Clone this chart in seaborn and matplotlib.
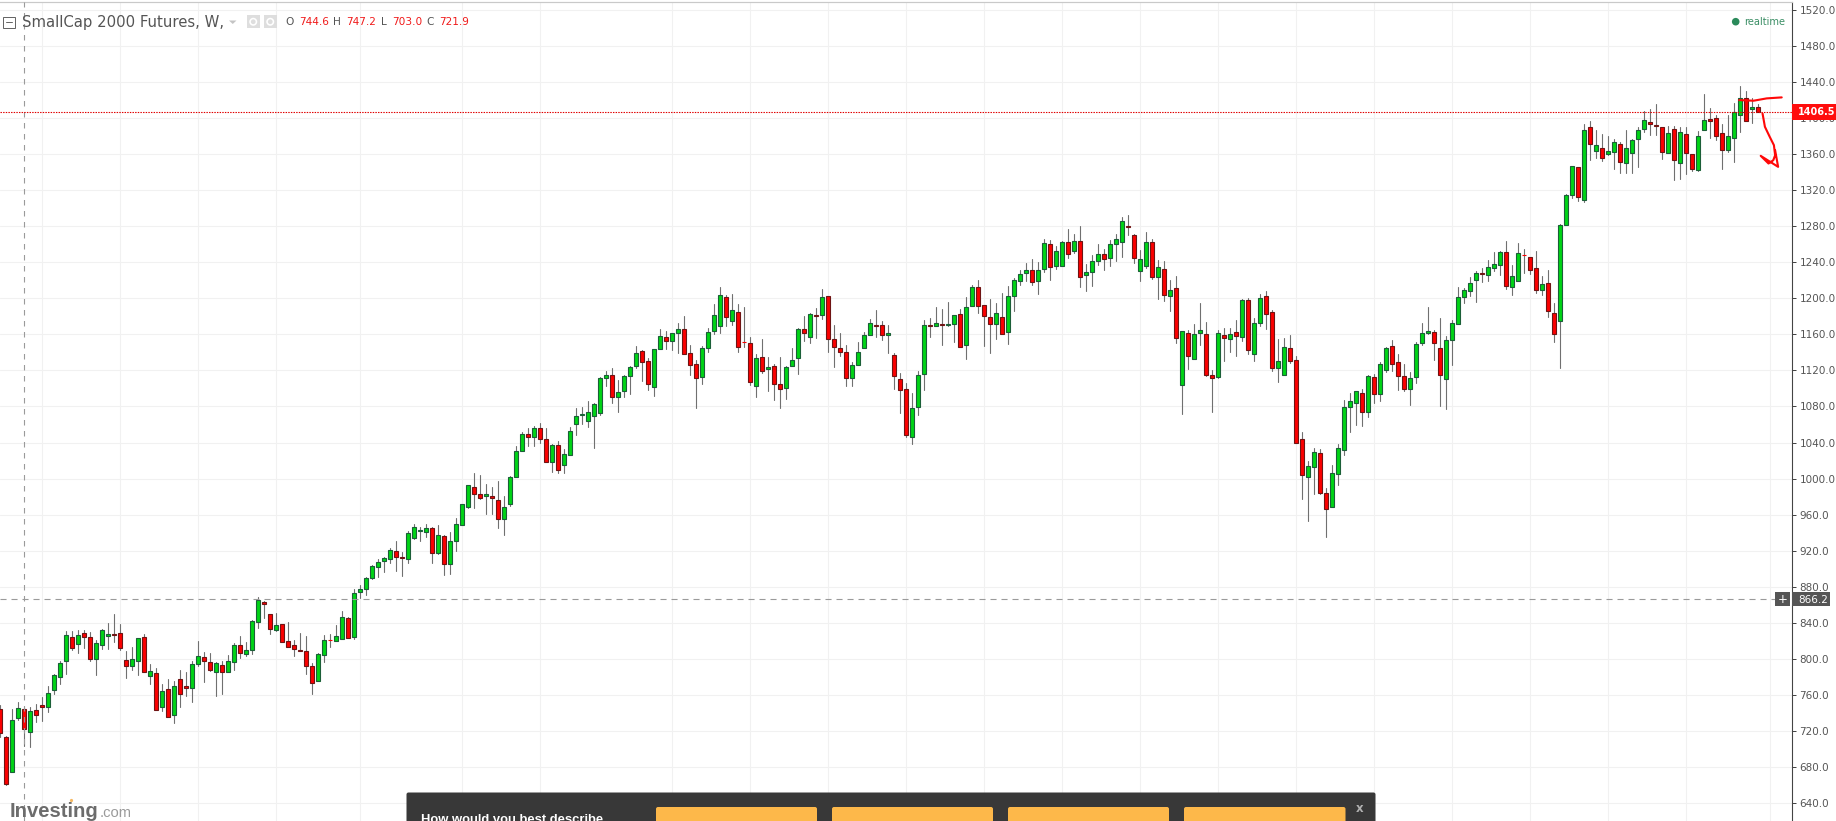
import matplotlib
matplotlib.use("Agg")
import matplotlib.pyplot as plt
from matplotlib.patches import Rectangle, FancyBboxPatch, Circle, Polygon
import numpy as np
import pandas as pd
import seaborn as sns

title = "SmallCap 2000 Futures, W,"
ohlc_letters = ["O", "H", "L", "C"]
ohlc_values = ["744.6", "747.2", "703.0", "721.9"]
crosshair_week = 4
crosshair_price = 866.2
last_price = 1406.5
price_ticks = list(range(640, 1521, 40))
grid_weeks = [7, 20, 33, 46, 60, 77, 90, 112, 125, 138, 151, 164, 177, 190, 203, 216,
              229, 242, 255, 268, 281, 295]

opens = [744.4,713.3,674.4,734.4,744.6,718.9,743.3,748.9,746.7,765.6,
780,797.8,824.4,816.7,828.9,824.4,800,815.6,825.2,827.8,
828.9,798.5,792.2,797.8,824.4,780.7,784.4,746.7,766.7,737.8,
777.8,770,767.8,794.4,802.2,796.7,785.6,793.3,785.6,796.7,
815.6,805.6,810,841.1,863.3,850,832.2,838.9,820,815.6,
810,808.9,792.2,775.6,804.4,821.1,820,822.2,845.6,824.1,
874.4,877.8,890,902.2,908.9,911.1,920,913.3,911.1,934.4,
942.2,941.1,945.6,917.8,936.7,905.6,931.1,948.9,968.9,991.1,
983.3,981.1,981.1,976.7,955.6,972.2,1002.2,1031.1,1048.9,1045.6,
1055.6,1044.4,1018.9,1036.7,1015.6,1026.7,1060,1070,1063.3,1068.9,
1072.2,1111.1,1114.4,1090,1096.7,1113.3,1124.4,1141.1,1130,1101.1,
1143.3,1156.7,1152.2,1161.1,1165.6,1138.9,1126.7,1112.2,1144.4,1163.3,
1168.9,1201.1,1174.4,1184.4,1151.1,1150,1102.2,1134.4,1121.1,1124.4,
1104.4,1100,1124.4,1133.3,1165.6,1156.7,1181.1,1181.1,1202.2,1154.4,
1144.4,1140,1111.1,1125.6,1144.4,1158.9,1170,1170,1158.9,1136.7,
1110,1098.9,1045.6,1078.9,1115.6,1170,1168.9,1171.1,1170,1171.1,
1182.2,1147.8,1191.1,1212.2,1192.2,1178.9,1171.1,1178.9,1162.2,1202.2,
1218.9,1227.8,1231.1,1218.9,1232.2,1260,1235.6,1235.6,1262.2,1252.2,
1263.3,1225.6,1228.9,1241.1,1248.9,1244.4,1260,1262.2,1280,1270,
1230,1235.6,1262.2,1223.3,1232.2,1202.2,1211.1,1103.3,1161.1,1132.2,
1161.1,1160,1114.4,1112.2,1158.9,1154.4,1162.2,1156.7,1197.8,1137.8,
1172.2,1202.2,1184.4,1122.2,1114.4,1144.4,1131.1,1044.4,1002.2,1013.3,
1028.9,984.4,968.9,1005.6,1032.2,1078.9,1083.3,1094.4,1073.3,1112.2,
1093.3,1120,1146.7,1128.9,1113.3,1098.9,1112.2,1150,1161.1,1162.2,
1144.4,1110,1153.3,1171.1,1201.1,1207.8,1220,1227.8,1225.6,1233.3,
1236.7,1251.1,1212.2,1218.9,1247.8,1245.6,1233.3,1208.9,1216.7,1183.3,
1174.4,1281.5,1314.8,1345.9,1309.3,1389.3,1363.7,1367,1359.3,1362.6,
1370.4,1350.4,1361.5,1377,1388.1,1394.8,1391.5,1389.3,1361.5,1388.1,
1350.4,1381.5,1359.3,1342.6,1387,1398.1,1399.3,1382.6,1364.8,1378.1,
1402.6,1421.5,1409.3,1411.5]

highs = [749.3,714.8,744.8,752.2,747.2,746.7,750,758.1,770.4,783.7,
798.1,831.5,831.5,832.6,832.6,830.4,821.5,833.7,840.4,850,
839.3,809.3,813.3,823.3,828.1,794.4,790.4,772.2,777.8,775.9,
787.8,785.6,797.8,820.4,808.1,806.7,796.7,797.8,804.4,817.8,
825.9,819.3,843.3,868.9,864.4,850,851.1,838.9,841.5,821.5,
829.3,825.9,795.6,806.7,827,828.1,837.8,853.3,846.7,877.8,
882.2,891.1,904.4,911.1,913.3,923.3,931.1,918.9,941.5,950,
946.7,950,946.7,948.9,937.8,941.1,956.7,972.2,993.3,1006.7,
1004.4,994.4,991.1,997.8,981.1,1003.3,1035.6,1051.1,1055.6,1057.8,
1061.1,1055.6,1037.8,1042.2,1033.3,1056.7,1077.8,1078.9,1085.9,1084,
1112.2,1118.9,1122.2,1108.9,1114.4,1124.4,1146.7,1142.2,1133.3,1143.3,
1165.6,1163.3,1161.1,1172.2,1180,1147.8,1131.1,1146.7,1166.7,1193.7,
1212.2,1203.3,1204.4,1193.3,1190,1156.7,1137.8,1154.4,1134.4,1126.7,
1134.4,1124.4,1144.4,1166.7,1180,1183.3,1189.6,1210,1202.2,1170,
1161.1,1147.8,1128.9,1151.1,1162.2,1176.7,1186.7,1174.4,1170,1138.9,
1116.7,1105.6,1094.4,1118.9,1175.6,1177.8,1190,1187.8,1195.6,1181.1,
1187.8,1201.1,1214.4,1220,1192.2,1198.9,1194.4,1205.6,1213.3,1222.2,
1231.1,1238.9,1243.3,1240,1265.6,1264.4,1257.8,1263.3,1276.7,1271.1,
1280,1237.8,1247.8,1260,1254.4,1264.4,1271.1,1290,1292.2,1271.1,
1253.3,1273.3,1265.6,1242.2,1241.1,1220,1224.4,1163.3,1164.4,1171.1,
1194.4,1173.3,1120,1164.4,1166.7,1166.7,1175.6,1198.9,1200,1177.8,
1204.4,1207.8,1186.7,1154.4,1155.6,1158.9,1135.6,1052.2,1020,1034.4,
1033.3,990,1015.6,1038.9,1086.7,1094.4,1096.7,1098.9,1114.4,1115.6,
1128.9,1145.6,1153.3,1137.8,1126.7,1117.8,1151.1,1172.2,1190,1164.4,
1177.8,1157.8,1175.6,1212.2,1211.1,1224,1230,1233.3,1242.2,1251.1,
1252.2,1263.3,1236.7,1261.1,1254.4,1245.6,1252.2,1224.4,1231.1,1194.4,
1282.5,1315.9,1347,1345.9,1392.6,1395.9,1385.9,1381.9,1380,1377,
1373.7,1385.9,1377,1389.3,1407,1409.3,1414.8,1389.3,1390.4,1390.4,
1389.3,1389.3,1359.3,1384.8,1425.9,1410.4,1402.6,1392.6,1402.6,1415.9,
1434.8,1429.3,1421.5,1414.8]

lows = [713.3,660.4,674.4,732.6,703,701.9,730.7,731.5,741.5,760.7,
771.9,783.7,809.6,806.3,811.9,797.8,782.6,810.7,810.7,818.5,
809.6,779.3,787.4,781.9,785.2,772.6,743.3,741.9,735.6,728.5,
746.3,758.5,752.6,791.9,774.1,786.7,758.5,760.7,785.6,788.1,
800.7,803,805.2,834.1,845.9,827.4,830.7,818.9,813.3,803.7,
808.9,783.7,760.7,775.6,796.3,813.7,820,822.2,823.3,822.6,
867.8,870.4,888.9,891.1,896.3,906.3,897.4,891.9,906.3,933.3,
930.7,935.2,906.3,916.7,892.6,893.7,919.6,948.9,967.8,967.4,
977.4,960.7,960.7,945.2,937.4,969.6,1002.2,1031.1,1035.6,1035.6,
1039.6,1018.9,1007.8,1006.7,1006.7,1026.7,1048.5,1060.4,1057.4,1034.4,
1070.7,1102.6,1084.1,1074.1,1090.7,1094.1,1122.2,1108.5,1098.5,1091.9,
1143.3,1143.3,1142.6,1138.9,1137.8,1115.2,1078.5,1105.2,1140.7,1160,
1161.9,1169.6,1170,1140.7,1145.6,1103.3,1090.7,1116.7,1097.4,1087.4,
1078.5,1088.5,1124.4,1116.3,1152.2,1150,1156.3,1176.7,1140.7,1124.1,
1135.6,1103,1103,1125.6,1144.4,1158.9,1157.4,1153.3,1139.6,1099.6,
1072.2,1045.6,1038.9,1070.7,1098.5,1157.4,1168.9,1148.5,1168.9,1151.9,
1145.6,1133,1191.1,1183.3,1147.4,1139.6,1155.2,1160,1148.9,1186.3,
1214.4,1218.9,1214.4,1204.1,1228.9,1220,1232.2,1235.6,1244.4,1250,
1211.9,1207.8,1213,1236.7,1231.1,1235.6,1241.1,1245.6,1270,1238.9,
1218.9,1233.3,1221.1,1198.9,1196.7,1185.6,1150,1071.1,1121.1,1132.2,
1147.8,1113.3,1073.3,1111.1,1130,1140,1135.6,1152.2,1138.5,1130,
1168.9,1165.6,1118.9,1106.7,1114.4,1127.8,1040,977.8,953,983.3,
983.3,935.2,968.9,993,1025.6,1052.2,1059.6,1058.5,1067.8,1083.3,
1086.3,1117.8,1119.6,1097.8,1096.7,1081.9,1106.3,1147.8,1160,1131.5,
1080.7,1076.7,1125.6,1171.1,1194.4,1202.6,1196.3,1217.4,1218.5,1230,
1225.9,1210,1203,1218.9,1227.8,1227,1206.3,1203,1178.9,1151.9,
1123,1281.5,1310.7,1307.8,1307,1353.7,1355.9,1351.9,1358.5,1343.3,
1338.9,1338.9,1338.9,1345.6,1383.7,1380.4,1381.1,1354.4,1361.5,1331.1,
1332.2,1337.8,1341.1,1341.1,1387,1377.8,1375.9,1343.3,1362.6,1351.1,
1383.7,1395.9,1393.7,1405.9]

closes = [717.8,661.9,732.2,745.2,721.9,742.2,737.4,746.7,762.2,782.2,
795.6,826.7,811.9,826.7,824.1,800,817.8,832.2,827.8,826.3,
811.9,792.2,800,823.3,785.2,786.7,743.3,764.4,735.6,770,
761.1,767.8,794.4,803.3,797.8,787.8,795.6,785.6,797.8,815.6,
806.7,810,842.2,865.6,861.1,833.3,837.8,818.9,813.3,811.1,
808.9,792.2,773.3,805.6,821.1,821.1,825.6,846.7,823.3,873.3,
877.8,890,903.3,907.8,912.2,921.1,913.3,912.2,940,946.7,
943.3,945.6,917.8,937.8,905.6,931.1,950,972.2,993.3,983.3,
978.9,983.3,978.9,955.6,968.9,1002.2,1031.1,1048.9,1045.6,1055.6,
1044.4,1018.9,1036.7,1010,1027.8,1053.3,1068.9,1071.1,1073.3,1082.2,
1111.1,1114.4,1090,1095.6,1113.3,1123.3,1138.9,1128.9,1104.4,1143.3,
1157.8,1152.2,1161.1,1165.6,1137.8,1125.6,1111.1,1144.4,1162.2,1181.1,
1203.3,1178.9,1186.7,1145.6,1151.1,1106.7,1133.3,1118.9,1123.3,1104.4,
1098.9,1123.3,1131.1,1165.6,1161.1,1182.2,1180,1201.1,1154.4,1145.6,
1140,1111.1,1125.6,1140,1158.9,1172.2,1168.9,1158.9,1161.1,1113.3,
1097.8,1047.8,1077.8,1114.4,1170,1168.9,1172.2,1170,1171.1,1181.1,
1145.6,1190,1212.2,1191.1,1180,1171.1,1183.3,1160,1202.2,1220,
1226.7,1231.1,1217.8,1231.1,1261.1,1234.4,1252.2,1262.2,1248.9,1263.3,
1223.3,1228.9,1241.1,1248.9,1243.3,1260,1265.6,1285.6,1278.9,1244.4,
1243.3,1262.2,1223.3,1234.4,1203.3,1208.9,1155.6,1163.3,1135.6,1160,
1164.4,1114.4,1111.1,1161.1,1155.6,1160,1157.8,1197.8,1142.2,1172.2,
1200,1182.2,1122.2,1130,1145.6,1130,1040,1004.4,1014.4,1030,
984.4,966.7,1006.7,1034.4,1078.9,1085.6,1096.7,1073.3,1113.3,1093.3,
1126.7,1144.4,1126.7,1113.3,1098.9,1111.1,1148.9,1161.1,1163.3,1150,
1114.4,1153.3,1172.2,1201.1,1208.9,1216.7,1227.8,1226.7,1234.4,1237.8,
1251.1,1213.3,1224.4,1250,1247.8,1231.1,1208.9,1215.6,1185.6,1160,
1281.5,1314.8,1347,1312.6,1387,1370.4,1369.3,1355.9,1363.7,1373.7,
1351.5,1367,1375.9,1387,1397,1392.6,1390.4,1362.6,1382.6,1353.7,
1383.7,1360.4,1343.7,1379.3,1397,1395.9,1379.3,1364.8,1379.3,1405.9,
1421.5,1395.9,1411.5,1406.5]

sketch_top_week = [289.8, 292.2, 294.4, 296.9]
sketch_top_price = [1419.6, 1418.9, 1421.5, 1422.6]
sketch_arrow_week = [293.7, 294.1, 294.9, 295.6, 295.8, 295.5, 294.7, 293.4, 296.3, 295.8]
sketch_arrow_price = [1404.8, 1390, 1378.9, 1369.6, 1358.5, 1353, 1349.3, 1357.8, 1345.6, 1364]

assert len(opens) == len(highs) == len(lows) == len(closes) == 294

sns.set_theme(style="white")
plt.rcParams["font.family"] = ["DejaVu Sans"]

W, H = 1836, 821
fig = plt.figure(figsize=(W / 100, H / 100), dpi=100, facecolor="white")
ax = fig.add_axes([0, 0, 1791.5 / W, (H - 2.5) / H])
PX = 0.72

weeks = np.arange(len(opens))
o, h, l, c = map(np.array, (opens, highs, lows, closes))

wicks = pd.DataFrame({
    "week": np.concatenate([weeks, weeks]),
    "price": np.concatenate([h, l]),
})
sns.lineplot(data=wicks, x="week", y="price", units="week", estimator=None, sort=False,
             color="#707070", linewidth=1.1 * PX, legend=False, ax=ax, zorder=2)

up = c >= o
flat = c == o
fills = np.where(up, "#00d416", "#fb0000")
edges = np.where(flat, "#fb0000", np.where(up, "#1b5f38", "#6f1414"))
ax.bar(weeks, np.abs(c - o), bottom=np.minimum(o, c), width=0.68, color=fills,
       edgecolor=edges, linewidth=1.1 * PX, zorder=3)

ax.set_xlim(-0.055, 298.53)
ax.set_ylim(620.4, 1527.8)
ax.set_xticks(grid_weeks)
ax.set_xticklabels([])
ax.set_yticks(price_ticks)
ax.set_yticklabels([f"{p:.1f}" for p in price_ticks])
ax.yaxis.tick_right()
ax.tick_params(axis="y", length=4 * PX, width=PX, color="#444444", pad=4 * PX,
               labelsize=7.5, labelcolor="#555555", right=True)
ax.tick_params(axis="x", length=0)
ax.set_xlabel("")
ax.set_ylabel("")
ax.set_axisbelow(True)
ax.grid(True, color="#f1f1f1", linewidth=1.1 * PX)
for side in ("left", "bottom"):
    ax.spines[side].set_visible(False)
ax.spines["right"].set_color("#444444")
ax.spines["right"].set_linewidth(PX * 1.1)
ax.spines["top"].set_color("#c9c9c9")
ax.spines["top"].set_linewidth(PX * 1.2)

ax.axvline(crosshair_week, color="#9a9a9a", lw=1.1 * PX, ls=(0, (5, 5)), zorder=4)
ax.axhline(crosshair_price, color="#9a9a9a", lw=1.1 * PX, ls=(0, (5.5, 4.5)), zorder=4)
ax.axhline(last_price, color="#e00000", lw=1.1 * PX, ls=(0, (1.3, 1.1)), zorder=4)

ax.plot(sketch_top_week, sketch_top_price, color="#ff0808", lw=2.1 * PX, zorder=5,
        solid_capstyle="round", clip_on=False)
ax.plot(sketch_arrow_week, sketch_arrow_price, color="#ff0808", lw=2.1 * PX, zorder=5,
        solid_joinstyle="round", clip_on=False)

# overlay in pixel coordinates for the chart's interface chrome
ui = fig.add_axes([0, 0, 1, 1], zorder=5, facecolor="none")
ui.set_xlim(0, W)
ui.set_ylim(H, 0)
ui.axis("off")
fig.canvas.draw()


def price_y(p):
    return H - ax.transData.transform((0, p))[1]


# header
ui.add_patch(Rectangle((3, 17), 11.5, 11, fill=False, ec="#666666", lw=PX))
ui.plot([5.5, 12], [22.5, 22.5], color="#666666", lw=PX)
ui.text(21.5, 22.5, title, fontsize=10.75, color="#555555", va="center", ha="left")
ui.add_patch(Polygon([(229, 20.5), (236.5, 20.5), (232.75, 24)], color="#c4c4c4", lw=0))
for x0 in (246.5, 263.5):
    ui.add_patch(Rectangle((x0, 15), 13.5, 13.5, color="#dedede", lw=0))
    ui.add_patch(Circle((x0 + 6.75, 21.75), 3.2, fill=False, ec="white", lw=1.6 * PX))
for letter, lx, value, vx in zip(ohlc_letters, (285.7, 333.3, 380.7, 426),
                                 ohlc_values, (298.7, 346, 392, 438.7)):
    ui.text(lx, 22, letter, fontsize=7.6, color="#555555", va="center", ha="left")
    ui.text(vx, 22, value, fontsize=7.6, color="#f01a1a", va="center", ha="left")

ui.add_patch(Circle((1735.7, 21.7), 3.8, color="#2a8a5a", lw=0))
ui.text(1744, 21.7, "realtime", fontsize=7.1, color="#3c8f66", va="center", ha="left")

# price boxes
ly = price_y(last_price)
ui.add_patch(Rectangle((1791.5, ly - 8), W - 1791.5, 16, color="#ff0d0d", lw=0))
ui.text(1798, ly + 0.5, f"{last_price:.1f}", fontsize=7.0, fontweight="bold", color="white",
        va="center", ha="left")
cy = price_y(crosshair_price)
ui.add_patch(Rectangle((1775, cy - 7), 14.5, 14, color="#555555", lw=0))
ui.text(1782.2, cy - 0.2, "+", fontsize=8.5, color="white", va="center", ha="center")
ui.add_patch(Rectangle((1791.5, cy - 7), 38, 14, color="#555555", lw=0))
ui.text(1798, cy + 0.3, f"{crosshair_price:.1f}", fontsize=7.5, color="white",
        va="center", ha="left")

# logo
ui.text(9.5, 817, "Investing", fontsize=14.6, fontweight="bold", color="#6c6c6c",
        family="Liberation Sans", va="baseline", ha="left")
ui.text(99.5, 817, ".com", fontsize=10.6, color="#9a9a9a", family="Liberation Sans",
        va="baseline", ha="left")
ui.add_patch(Circle((71.5, 800.5), 1.6, color="#f6b860", lw=0))

# poll popup
ui.add_patch(FancyBboxPatch((406.5, 792.5), 969, 40, boxstyle="round,pad=0,rounding_size=2",
                            fc="#383838", ec="none", clip_on=True))
for x0, x1 in ((656, 817), (832, 993), (1008, 1169), (1184, 1345.5)):
    ui.add_patch(FancyBboxPatch((x0, 807), x1 - x0, 30, boxstyle="round,pad=0,rounding_size=2",
                                fc="#fdb84a", ec="none", clip_on=True))
ui.text(1360, 808, "x", fontsize=8.5, color="#b0b0b0", va="center", ha="center",
        fontweight="bold")
ui.text(421, 820, "How would you best describe", fontsize=9.4, color="white",
        family="Liberation Sans", fontweight="bold", va="center", ha="left")

fig.savefig("out.png", dpi=100, facecolor="white")
